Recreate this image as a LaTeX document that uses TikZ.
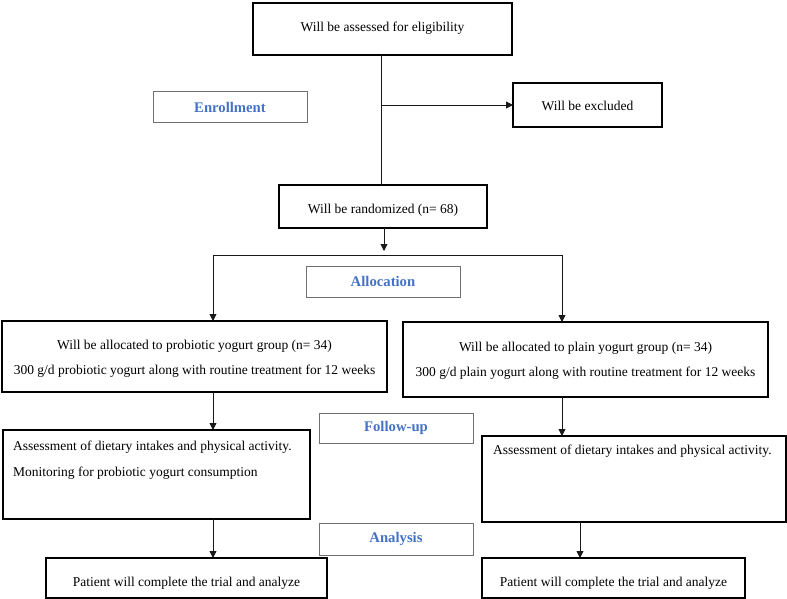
\documentclass[tikz,border=0pt]{standalone}
\usepackage{fontspec}
\setmainfont{Liberation Serif}
\usetikzlibrary{arrows.meta,calc}
\definecolor{labelblue}{HTML}{4472C4}
\definecolor{labelgray}{HTML}{707070}
\tikzset{
  mainbox/.style={draw=black, line width=1.3pt, inner sep=0pt, outer sep=0pt},
  labelbox/.style={draw=labelgray, line width=1pt, inner sep=0pt, outer sep=0pt,
     font=\bfseries\fontsize{14.7}{17}\selectfont, text=labelblue},
  body/.style={font=\fontsize{13.5}{16}\selectfont, inner sep=0pt, text height=10pt, text depth=3pt},
  conn/.style={draw=black!90, line width=0.8pt},
  arr/.style={conn, -{Triangle[length=7pt,width=7pt]}}
}
\begin{document}
\begin{tikzpicture}[x=1pt,y=-1pt]
\useasboundingbox (0,0) rectangle (787,599);
% main boxes
\node[mainbox, minimum width=259pt, minimum height=52pt] (assess) at (382.5,29) {};
\node[body] (assesst) at (382.5,28) {Will be assessed for eligibility};
\node[mainbox, minimum width=149pt, minimum height=44pt] (excl) at (587.5,105) {};
\node[body] (exclt) at (587.5,107) {Will be excluded};
\node[mainbox, minimum width=208pt, minimum height=43pt] (rand) at (383,206.5) {};
\node[body] (randt) at (383,210) {Will be randomized (n= 68)};
\node[mainbox, minimum width=385pt, minimum height=71pt] (lalloc) at (194.5,356.5) {};
\node[body] (lalloct1) at (194.5,346) {Will be allocated to probiotic yogurt group (n= 34)};
\node[body] (lalloct2) at (194.5,371) {300 g/d probiotic yogurt along with routine treatment for 12 weeks};
\node[mainbox, minimum width=365pt, minimum height=75pt] (ralloc) at (585.5,359.5) {};
\node[body] (ralloct1) at (585.5,348) {Will be allocated to plain yogurt group (n= 34)};
\node[body] (ralloct2) at (585.5,373) {300 g/d plain yogurt along with routine treatment for 12 weeks};
\node[mainbox, minimum width=307pt, minimum height=89pt] (lassess) at (156.5,474.5) {};
\node[body, anchor=west] (lassesst1) at (13,447) {Assessment of dietary intakes and physical activity.};
\node[body, anchor=west] (lassesst2) at (13,473) {Monitoring for probiotic yogurt consumption};
\node[mainbox, minimum width=304pt, minimum height=86pt] (rassess) at (634,479) {};
\node[body, anchor=west] (rassesst1) at (493,451) {Assessment of dietary intakes and physical activity.};
\node[mainbox, minimum width=281pt, minimum height=40pt] (lpat) at (186.5,578) {};
\node[body] (lpatt) at (186.5,583) {Patient will complete the trial and analyze};
\node[mainbox, minimum width=263pt, minimum height=40pt] (rpat) at (613.5,578) {};
\node[body] (rpatt) at (613.5,583) {Patient will complete the trial and analyze};
% stage labels
\node[labelbox, minimum width=154pt, minimum height=31pt] (enroll) at (230,107.5) {Enrollment};
\node[labelbox, minimum width=154pt, minimum height=31pt] (alloc) at (383,281.5) {Allocation};
\node[labelbox, minimum width=154pt, minimum height=30pt] (follow) at (396,428) {Follow-up};
\node[labelbox, minimum width=154pt, minimum height=32pt] (analysis) at (396,539) {Analysis};
% connectors
\coordinate (j1) at (381.5,105);
\draw[conn] (assess.south -| j1) -- (rand.north -| j1);
\draw[arr] (j1) -- (excl.west);
\coordinate (split) at (384,255);
\draw[arr] (rand.south -| split) -- ($(split)+(0,-4)$);
\coordinate (sl) at (213,255);
\coordinate (sr) at (562,255);
\draw[conn] (sl) -- (sr);
\draw[arr] (sl) -- (lalloc.north -| sl);
\draw[arr] (sr) -- (ralloc.north -| sr);
\draw[arr] (lalloc.south -| sl) -- (lassess.north -| sl);
\draw[arr] (ralloc.south -| sr) -- (rassess.north -| sr);
\draw[arr] (lassess.south -| sl) -- (lpat.north -| sl);
\coordinate (br) at (580,540);
\draw[arr] (rassess.south -| br) -- (rpat.north -| br);
\end{tikzpicture}
\end{document}
